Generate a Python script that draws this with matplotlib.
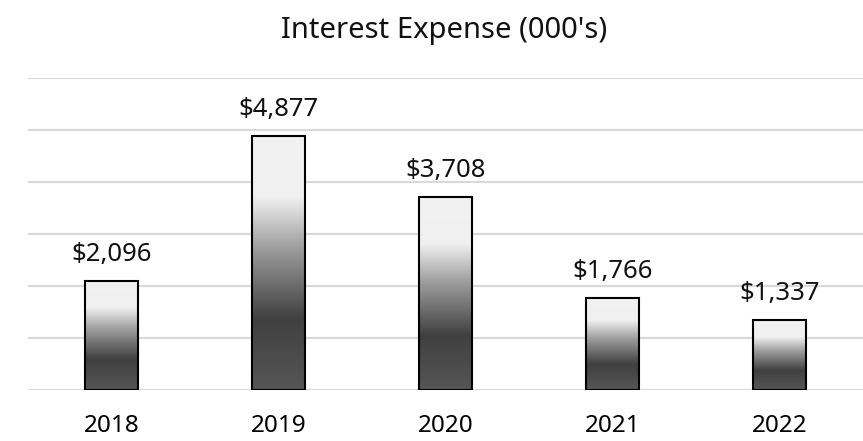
import matplotlib.pyplot as plt
import numpy as np
from matplotlib.colors import LinearSegmentedColormap

# data
years = ['2018', '2019', '2020', '2021', '2022']
expense = [2096, 4877, 3708, 1766, 1337]

plt.rcParams['font.family'] = ['Noto Sans', 'DejaVu Sans']

fig = plt.figure(figsize=(8.63, 4.41), dpi=100)
ax = fig.add_axes([0.0324, 0.1156, 0.9676, 0.7075])

# gradient dark at bottom, light on top
cmap = LinearSegmentedColormap.from_list('bargrad', [
    (0.0, '#565656'), (0.28, '#404040'), (0.55, '#9a9a9a'),
    (0.76, '#f0f0f0'), (1.0, '#f2f2f2')])
grad = np.linspace(0, 1, 256).reshape(-1, 1)

x = np.arange(len(years))
width = 0.32
bars = ax.bar(x, expense, width=width, facecolor='none', edgecolor='black',
              linewidth=1.5, zorder=3)
for b, v in zip(bars, expense):
    x0 = b.get_x()
    im = ax.imshow(grad, cmap=cmap, origin='lower', aspect='auto',
                   extent=[x0, x0 + b.get_width(), 0, v], zorder=2)
    im.set_clip_path(b)
    ax.text(b.get_x() + b.get_width() / 2, v + 270, f'${v:,}',
            ha='center', va='bottom', fontsize=18.5, color='#111111')

ax.set_xlim(-0.5, 4.5)
ax.set_ylim(0, 6000)
ax.set_yticks(np.arange(0, 6001, 1000))
ax.yaxis.grid(True, color='#d9d9d9', linewidth=1.5)
ax.set_axisbelow(True)
ax.tick_params(axis='y', left=False, labelleft=False)
ax.tick_params(axis='x', bottom=False, labelsize=17.5, pad=14)
ax.set_xticks(x)
ax.set_xticklabels(years)
for s in ax.spines.values():
    s.set_visible(False)

fig.text(0.515, 0.93, "Interest Expense (000's)", ha='center', va='center',
         fontsize=21, color='#111111')

fig.savefig('out.png', dpi=100)
